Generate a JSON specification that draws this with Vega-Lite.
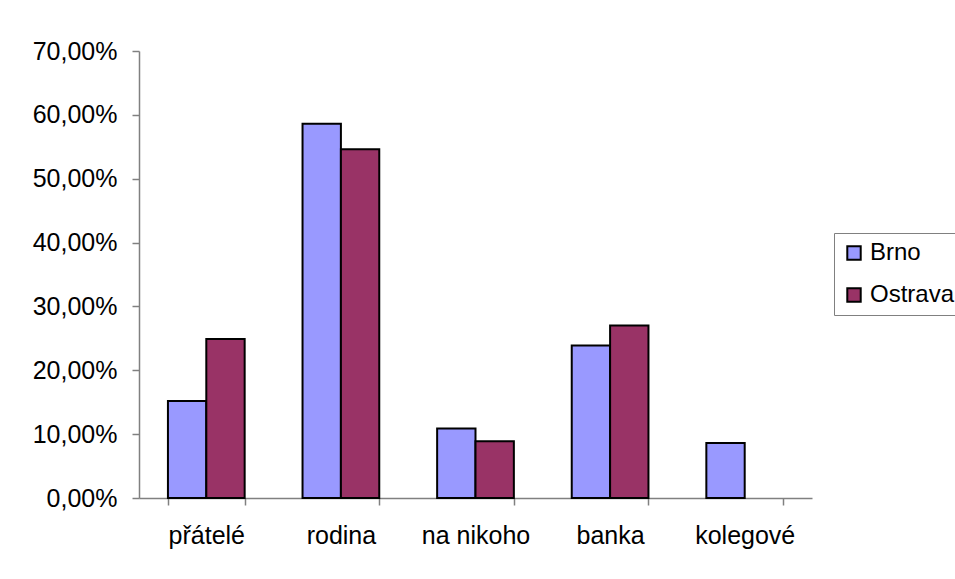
{
  "$schema": "https://vega.github.io/schema/vega-lite/v6.json",
  "autosize": {"type": "none"},
  "padding": {"left": 139, "top": 51, "right": 143, "bottom": 81},
  "width": 673,
  "height": 447,
  "background": "white",
  "config": {
    "locale": {"number": {"decimal": ",", "thousands": " ", "grouping": [3], "currency": ["", " Kč"]}},
    "font": "Liberation Sans",
    "view": {"stroke": null}
  },
  "data": {
    "values": [
      {"kategorie": "přátelé", "mesto": "Brno", "podil": 0.152},
      {"kategorie": "přátelé", "mesto": "Ostrava", "podil": 0.249},
      {"kategorie": "rodina", "mesto": "Brno", "podil": 0.586},
      {"kategorie": "rodina", "mesto": "Ostrava", "podil": 0.546},
      {"kategorie": "na nikoho", "mesto": "Brno", "podil": 0.109},
      {"kategorie": "na nikoho", "mesto": "Ostrava", "podil": 0.089},
      {"kategorie": "banka", "mesto": "Brno", "podil": 0.239},
      {"kategorie": "banka", "mesto": "Ostrava", "podil": 0.270},
      {"kategorie": "kolegové", "mesto": "Brno", "podil": 0.086}
    ]
  },
  "mark": {"type": "bar", "stroke": "black", "strokeWidth": 2},
  "encoding": {
    "x": {
      "field": "kategorie",
      "type": "nominal",
      "sort": ["přátelé", "rodina", "na nikoho", "banka", "kolegové"],
      "scale": {"paddingInner": 0.43, "paddingOuter": 0.215},
      "axis": {
        "title": null,
        "labelAngle": 0,
        "labelFontSize": 25,
        "labelColor": "black",
        "labelPadding": 18,
        "tickBand": "extent",
        "tickSize": 7,
        "tickColor": "#808080",
        "domainColor": "#808080",
        "domainWidth": 1.5,
        "tickWidth": 1.5
      }
    },
    "xOffset": {"field": "mesto", "type": "nominal", "sort": ["Brno", "Ostrava"]},
    "y": {
      "field": "podil",
      "type": "quantitative",
      "scale": {"domain": [0, 0.7], "nice": false},
      "axis": {
        "title": null,
        "format": ".2%",
        "values": [0, 0.1, 0.2, 0.3, 0.4, 0.5, 0.6, 0.7],
        "labelFontSize": 25,
        "labelColor": "black",
        "labelPadding": 15,
        "tickSize": 7,
        "tickColor": "#808080",
        "domainColor": "#808080",
        "domainWidth": 1.5,
        "tickWidth": 1.5,
        "grid": false
      }
    },
    "color": {
      "field": "mesto",
      "type": "nominal",
      "sort": ["Brno", "Ostrava"],
      "scale": {"domain": ["Brno", "Ostrava"], "range": ["#9999FF", "#993366"]},
      "legend": {
        "title": null,
        "orient": "none",
        "legendX": 695,
        "legendY": 182,
        "strokeColor": "#808080",
        "fillColor": "white",
        "padding": 8,
        "symbolType": "square",
        "symbolSize": 180,
        "symbolStrokeColor": "black",
        "symbolStrokeWidth": 2,
        "labelFontSize": 24,
        "labelColor": "black",
        "labelOffset": 4,
        "rowPadding": 18
      }
    }
  }
}
